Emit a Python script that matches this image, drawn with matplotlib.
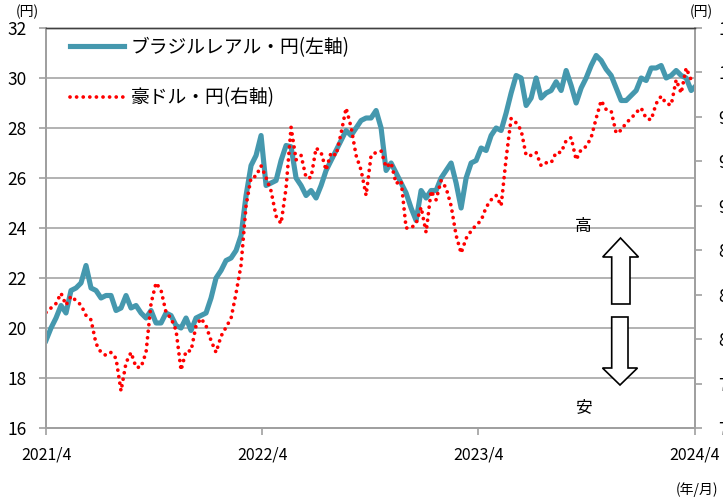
import numpy as np
import pandas as pd
import matplotlib
matplotlib.use('Agg')
import matplotlib.pyplot as plt
from matplotlib.patches import Polygon

plt.rcParams['font.family'] = ['Noto Sans CJK JP', 'DejaVu Sans']

# ブラジルレアル・円 (left axis), every 8 days
brl_jpy = [19.5, 20.0, 20.4, 20.9, 20.6, 21.5, 21.6, 21.8, 22.5, 21.6,
           21.5, 21.2, 21.3, 21.3, 20.7, 20.8, 21.3, 20.8, 20.9, 20.6,
           20.4, 20.7, 20.2, 20.2, 20.6, 20.5, 20.1, 20.0, 20.4, 19.9,
           20.4, 20.5, 20.6, 21.2, 22.0, 22.3, 22.7, 22.8, 23.1, 23.7,
           25.3, 26.5, 26.9, 27.7, 25.7, 25.8, 25.9, 26.7, 27.3, 27.25,
           26.0, 25.7, 25.3, 25.5, 25.2, 25.7, 26.3, 26.7, 27.1, 27.5,
           27.9, 27.7, 28.0, 28.3, 28.4, 28.4, 28.7, 28.0, 26.3, 26.6,
           26.2, 25.8, 25.4, 24.8, 24.3, 25.5, 25.2, 25.5, 25.5, 26.0,
           26.3, 26.6, 25.8, 24.8, 26.0, 26.6, 26.7, 27.2, 27.1, 27.7,
           28.0, 27.9, 28.6, 29.4, 30.1, 30.0, 28.9, 29.2, 30.0, 29.2,
           29.4, 29.5, 29.85, 29.5, 30.3, 29.7, 29.0, 29.6, 30.0, 30.5,
           30.9, 30.7, 30.35, 30.1, 29.6, 29.1, 29.1, 29.3, 29.5, 30.0,
           29.9, 30.4, 30.4, 30.5, 30.0, 30.1, 30.3, 30.1, 30.0, 29.5,
           29.7]

# 豪ドル・円 (right axis)
aud_jpy = [83.8, 84.1, 84.4, 85.1, 84.3, 84.9, 84.6, 84.3, 83.6, 83.3,
           81.7, 81.1, 80.9, 81.1, 80.7, 78.5, 80.4, 81.1, 80.1, 80.1,
           81.1, 84.4, 85.8, 85.3, 83.8, 83.4, 82.6, 79.9, 81.2, 81.2,
           82.9, 83.4, 82.9, 81.9, 81.1, 82.2, 82.8, 83.4, 85.1, 87.0,
           91.0, 92.9, 93.0, 93.7, 92.9, 92.0, 90.3, 89.8, 92.2, 96.3,
           94.1, 94.4, 92.9, 92.9, 94.9, 94.6, 93.4, 94.6, 94.4, 95.9,
           97.6, 96.3, 94.4, 93.4, 91.7, 94.4, 94.6, 94.7, 93.6, 93.9,
           92.5, 92.7, 89.5, 89.5, 89.8, 90.9, 89.2, 92.0, 91.4, 92.7,
           92.2, 91.0, 89.0, 87.8, 88.8, 89.3, 89.7, 90.0, 90.9, 91.4,
           91.7, 91.0, 94.2, 96.9, 96.6, 96.1, 94.4, 94.4, 94.6, 93.7,
           93.9, 93.9, 94.6, 94.6, 95.4, 95.6, 94.1, 94.8, 95.0, 95.6,
           96.9, 98.1, 97.5, 97.4, 95.9, 96.1, 96.6, 96.9, 97.3, 97.6,
           96.9, 96.8, 97.9, 98.4, 97.9, 97.8, 99.5, 98.6, 100.3, 99.5]

dates = pd.date_range('2021-04-01', '2024-04-03', periods=len(brl_jpy))
xtick_dates = pd.to_datetime(['2021-04-01', '2022-04-01', '2023-04-01', '2024-04-01'])
xtick_labels = ['2021/4', '2022/4', '2023/4', '2024/4']
left_ticks = np.arange(16, 33, 2)
right_ticks = np.arange(76, 104, 3)

W, H = 723, 500
fig = plt.figure(figsize=(W / 100, H / 100), dpi=100)
ax = fig.add_axes([46 / W, 1 - 428 / H, (695 - 46) / W, 400 / H])
ax2 = ax.twinx()

blue = '#4598AE'
l1, = ax.plot(dates, brl_jpy, color=blue, lw=3.7, solid_joinstyle='round',
              label='ブラジルレアル・円(左軸)')
l2, = ax2.plot(dates[:len(aud_jpy)], aud_jpy, color='#FF0000', lw=2.7,
               linestyle=(0, (0.01, 1.75)), dash_capstyle='round',
               label='豪ドル・円(右軸)')

ax.set_xlim(xtick_dates[0], xtick_dates[-1])
ax.set_ylim(16, 32)
ax2.set_ylim(76, 103)
ax.set_yticks(left_ticks)
ax2.set_yticks(right_ticks)
ax.set_xticks(xtick_dates)
ax.set_xticklabels(xtick_labels)

ax.yaxis.grid(True, color='#a6a6a6', lw=1.2)
ax.set_axisbelow(True)

for a in (ax, ax2):
    for s in a.spines.values():
        s.set_color('#a0a0a0')
        s.set_linewidth(1.4)
    a.spines['top'].set_color('#404040')
    a.spines['top'].set_linewidth(1.0)

ax.tick_params(axis='y', length=5, width=1.2, color='#a0a0a0', pad=9, labelsize=12.5)
ax.tick_params(axis='x', length=5, width=1.2, color='#a0a0a0', pad=8, labelsize=11.5)
ax2.tick_params(axis='y', length=5, width=1.2, color='#a0a0a0', pad=12, labelsize=12.5)

leg = ax2.legend(handles=[l1, l2], loc='upper left', frameon=False,
                 bbox_to_anchor=(70 / W, 1 - 37 / H), bbox_transform=fig.transFigure,
                 borderpad=0, borderaxespad=0, handlelength=2.9, handletextpad=0.35,
                 labelspacing=1.55, fontsize=13.5)

fig.text(16 / W, 1 - 12 / H, '(円)', fontsize=10, va='center', ha='left')
fig.text(690 / W, 1 - 12 / H, '(円)', fontsize=10, va='center', ha='left')
fig.text(718 / W, 1 - 490 / H, '(年/月)', fontsize=10, va='center', ha='right')
fig.text(583 / W, 1 - 227 / H, '高', fontsize=12, va='center', ha='center')
fig.text(583 / W, 1 - 408 / H, '安', fontsize=12, va='center', ha='center')


def px(points):
    return [(x / W, 1 - y / H) for x, y in points]


up_arrow = [(620.5, 238), (638.5, 257), (630, 257), (630, 304),
            (611.7, 304), (611.7, 257), (602.7, 257)]
down_arrow = [(611.7, 317), (628, 317), (628, 368), (637.5, 368),
              (620, 385), (602.5, 368), (611.7, 368)]
for pts in (up_arrow, down_arrow):
    fig.add_artist(Polygon(px(pts), closed=True, facecolor='white',
                           edgecolor='black', lw=1.2, transform=fig.transFigure))

fig.savefig('out.png', dpi=100)
